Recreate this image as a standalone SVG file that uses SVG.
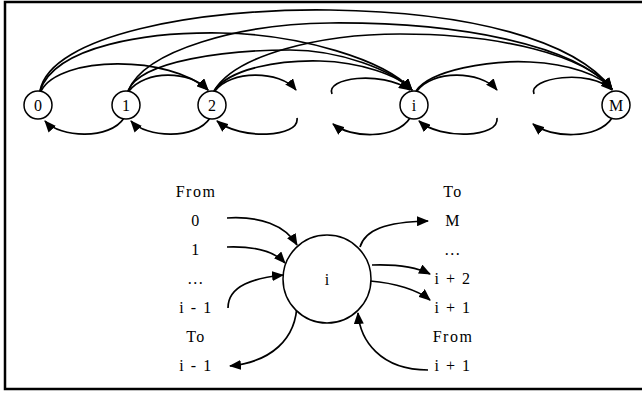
<svg xmlns="http://www.w3.org/2000/svg" width="642" height="394" viewBox="0 0 642 394">
<defs>
<marker id="ah" markerWidth="12" markerHeight="10" refX="11" refY="5" orient="auto" markerUnits="userSpaceOnUse">
<path d="M0,0 L12,5 L0,10 Z" fill="#000"/>
</marker>
<style>
.n{fill:#fff;stroke:#000;stroke-width:1.5}
.t{font-family:"Liberation Serif","DejaVu Serif",serif;font-size:16px;fill:#000;text-anchor:middle}
.l{font-family:"Liberation Serif","DejaVu Serif",serif;font-size:16px;fill:#000;text-anchor:middle;letter-spacing:1.5px}
.e{fill:none;stroke:#000;stroke-width:1.7;marker-end:url(#ah)}
</style>
</defs>
<rect x="0" y="0" width="642" height="394" fill="#fff"/>
<rect x="5" y="2" width="640" height="387" fill="none" stroke="#000" stroke-width="2.5"/>
<g id="edges">
<path class="e" d="M40 91 C50 35,200 8,330 10 C470 12,575 40,612 89"/>
<path class="e" d="M128 91 C145 50,240 24,330 23 C460 22,575 45,612 89"/>
<path class="e" d="M214 91 C235 55,320 34,400 34 C500 34,585 55,612 89"/>
<path class="e" d="M40 91 C55 45,150 32,220 33 C300 34,385 60,412 90"/>
<path class="e" d="M128 91 C140 60,230 50,290 50 C340 50,392 70,412 90"/>
<path class="e" d="M214 91 C230 68,280 60,320 61 C360 62,398 75,412 90"/>
<path class="e" d="M416 91 C430 70,490 60,530 62 C570 64,600 75,612 89"/>
<path class="e" d="M41 91 C60 55,170 55,208 90"/>
<path class="e" d="M129 91 C145 70,190 70,208 90"/>
<path class="e" d="M215 91 C230 70,280 70,296 90"/>
<path class="e" d="M332 94 C325 78,380 70,410 90"/>
<path class="e" d="M417 91 C432 70,480 70,497 90"/>
<path class="e" d="M534 94 C527 78,590 68,612 90"/>
<path class="e" d="M124 118 C110 140,60 138,45 121"/>
<path class="e" d="M210 118 C196 140,146 138,131 121"/>
<path class="e" d="M297 118 C300 138,240 140,217 121"/>
<path class="e" d="M410 118 C396 140,350 138,333 124"/>
<path class="e" d="M497 118 C500 138,440 140,419 121"/>
<path class="e" d="M612 118 C598 140,550 138,533 124"/>
<path class="e" d="M227 218 C260 216,285 225,297 245"/>
<path class="e" d="M227 247 C255 246,275 252,285 263"/>
<path class="e" d="M228 308 C228 285,255 278,283 275"/>
<path class="e" d="M297 302 C297 340,270 362,230 366"/>
<path class="e" d="M360 247 C365 230,385 222,428 221"/>
<path class="e" d="M372 265 C400 264,418 268,430 274"/>
<path class="e" d="M370 281 C395 283,418 290,430 300"/>
<path class="e" d="M428 370 C380 370,360 340,358 313"/>
</g>
<g id="n0"><circle class="n" cx="38" cy="105" r="14"/><text class="t" x="38" y="110.5">0</text></g>
<g id="n1"><circle class="n" cx="126" cy="105" r="14"/><text class="t" x="126" y="110.5">1</text></g>
<g id="n2"><circle class="n" cx="212" cy="105" r="14"/><text class="t" x="212" y="110.5">2</text></g>
<g id="ni"><circle class="n" cx="414" cy="105" r="14"/><text class="t" x="414" y="110.5">i</text></g>
<g id="nM"><circle class="n" cx="616" cy="105" r="14"/><text class="t" x="616" y="110.5">M</text></g>
<g id="big"><circle class="n" cx="327" cy="279" r="44"/><text class="t" x="327" y="284.5">i</text></g>
<g id="left-labels">
<text class="l" x="196" y="197">From</text>
<text class="l" x="196" y="226">0</text>
<text class="l" x="196" y="255">1</text>
<text class="l" x="196" y="284">...</text>
<text class="l" x="196" y="313">i - 1</text>
<text class="l" x="196" y="342">To</text>
<text class="l" x="196" y="371">i - 1</text>
</g>
<g id="right-labels">
<text class="l" x="453" y="197">To</text>
<text class="l" x="453" y="226">M</text>
<text class="l" x="453" y="255">...</text>
<text class="l" x="453" y="284">i + 2</text>
<text class="l" x="453" y="313">i + 1</text>
<text class="l" x="453" y="342">From</text>
<text class="l" x="453" y="371">i + 1</text>
</g>
</svg>
